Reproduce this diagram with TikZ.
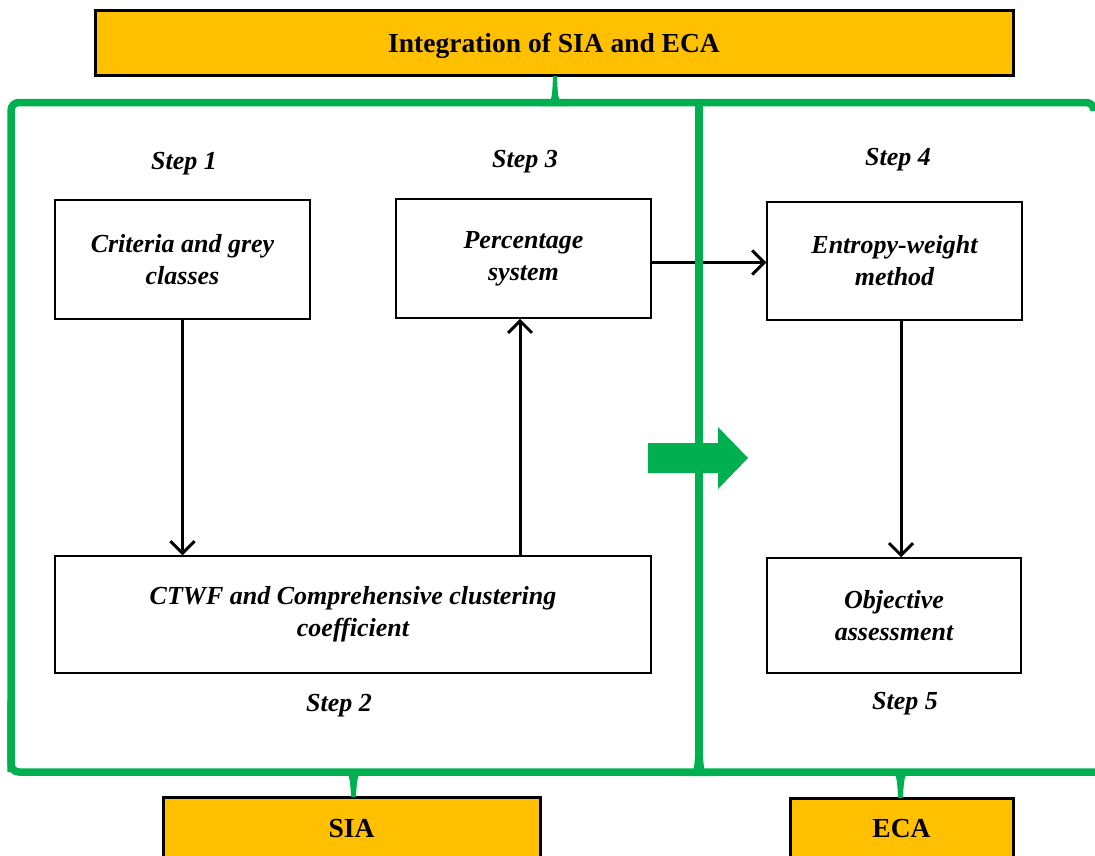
\documentclass[tikz,border=0pt]{standalone}
\usepackage{fontspec}
\setmainfont{Liberation Serif}
\usetikzlibrary{arrows.meta}
\definecolor{gr}{HTML}{00B050}
\definecolor{ybg}{HTML}{FFC000}
\begin{document}
\begin{tikzpicture}[x=1pt,y=-1pt,
  box/.style={draw=black, line width=1.5pt, align=center, inner sep=0pt,
    font=\fontsize{26}{32}\selectfont\bfseries\itshape},
  steplbl/.style={font=\fontsize{26}{30}\selectfont\bfseries\itshape, inner sep=0pt},
  ybox/.style={draw=black, line width=3pt, fill=ybg, inner sep=0pt,
    font=\fontsize{27.5}{30}\selectfont\bfseries},
  grn/.style={draw=gr, line width=7.5pt},
  arr/.style={-{Straight Barb[length=12pt,width=24pt]}, line width=3pt}
]
\useasboundingbox (0,0) rectangle (1095,855);
\clip (0,0) rectangle (1095,855);

% yellow title boxes
\node[ybox, minimum width=918pt, minimum height=65pt] (top) at (554,42.5) {\raisebox{-10pt}[0pt][0pt]{Integration of SIA and ECA}};
\node[ybox, minimum width=377pt, minimum height=70pt] (sia) at (351.5,832) {\raisebox{-5pt}[0pt][0pt]{SIA}};
\node[ybox, minimum width=223pt, minimum height=70pt] (eca) at (901.5,833) {\raisebox{-4pt}[0pt][0pt]{ECA}};

% step boxes
\node[box, minimum width=255pt, minimum height=119pt] (crit) at (182.5,259.5) {Criteria and grey\\classes};
\node[box, minimum width=255pt, minimum height=119pt] (perc) at (523.5,258.5) {Percentage\\system};
\node[box, minimum width=255pt, minimum height=118pt] (ent) at (894.5,261) {Entropy-weight\\method};
\node[box, minimum width=596pt, minimum height=117pt] (ctwf) at (353,614.5) {CTWF and Comprehensive clustering\\coefficient};
\node[box, minimum width=254pt, minimum height=115pt] (obj) at (894,615.5) {Objective\\assessment};

% step labels
\node[steplbl] (s1) at (184,164) {Step 1};
\node[steplbl] (s3) at (525,162) {Step 3};
\node[steplbl] (s4) at (898,160) {Step 4};
\node[steplbl] (s2) at (339,706) {Step 2};
\node[steplbl] (s5) at (905,704) {Step 5};

% black arrows
\draw[arr] (crit.south) -- (crit.south |- ctwf.north);
\draw[arr] ([xshift=-3.5pt]ctwf.north -| perc.south) -- ([xshift=-3.5pt]perc.south);
\draw[arr] ([yshift=-4pt]perc.east) -- ([yshift=-4pt]perc.east -| ent.west);
\draw[arr] ([xshift=6.5pt]ent.south) -- ([xshift=6.5pt]ent.south |- obj.north);

% green braces
\coordinate (tl) at (11,102.5);
\coordinate (bl) at (11,772);
\coordinate (mid) at (699,102.5);
\draw[grn, rounded corners=8pt] (bl) -- (tl) -- (1094,102.5) -- (1094,106);
\draw[grn, rounded corners=8pt] (11,700) -- (bl) -- (1100,772);
\draw[grn] (mid) -- (mid |- bl);
% brace tips
\fill[gr] (540,106) .. controls (552,106) and (552,100) .. (553,76) -- (557,76)
  .. controls (558,100) and (558,106) .. (570,106) -- cycle;
\fill[gr] (337,769) .. controls (349,769) and (350,775) .. (351,797) -- (356,797)
  .. controls (357,775) and (358,769) .. (371,769) -- cycle;
\fill[gr] (885,769) .. controls (896,769) and (897,775) .. (898,798) -- (903,798)
  .. controls (904,775) and (905,769) .. (917,769) -- cycle;
\fill[gr] (684,776) .. controls (694,776) and (695,770) .. (695.5,740) -- (702.5,740)
  .. controls (703,770) and (704,776) .. (714,776) -- cycle;

% green block arrow
\fill[gr] (648,443) -- (718,443) -- (718,427) -- (748,458) -- (718,489) -- (718,473) -- (648,473) -- cycle;
\end{tikzpicture}
\end{document}
